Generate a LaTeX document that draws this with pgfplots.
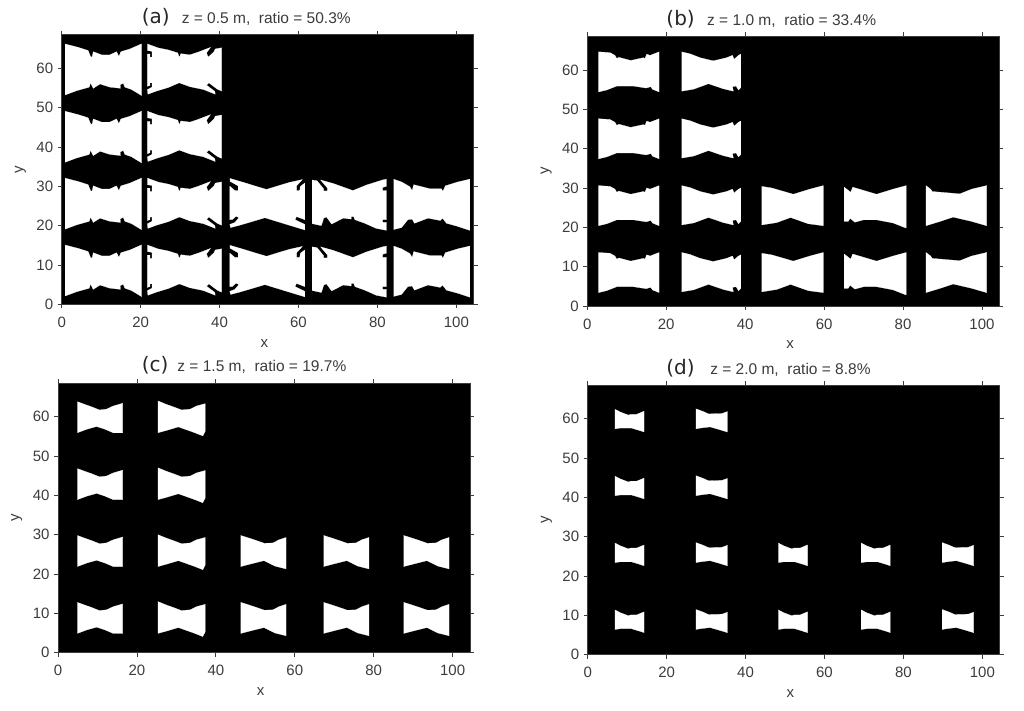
\documentclass[border=0pt]{standalone}
\usepackage{fontspec}
\setmainfont{Liberation Sans}
\newfontfamily\parenfont{DejaVu Sans}
\usepackage{pgfplots}
\usepackage{pgfplotstable}
\pgfplotsset{compat=1.18}
\definecolor{txt}{HTML}{3C3C3C}
% ---- panel (a): one opening per column, lowest row
\pgfplotstableread{
x y
0.84 15.07
4.2 14.2
6.7 13.4
7.3 11.9
7.7 11.7
8.0 13.1
10.1 12.3
12.2 12.3
13.9 13.1
14.5 11.9
15.0 13.1
17.3 13.8
20.25 15.1
20.25 1.95
17.7 3.5
16.0 4.1
15.6 5.1
14.8 4.7
14.9 3.8
12.2 4.1
9.7 4.9
8.0 3.8
7.3 5.2
7.0 4.1
3.8 3.2
0.84 2.1
}\aone
\pgfplotstableread{
x y
21.68 15.08
24.46 14.06
27.0 13.55
29.4 12.8
29.8 11.6
30.2 12.6
32.5 12.3
34.6 13.0
37.7 14.2
36.7 12.8
37.1 11.7
38.6 13.1
38.9 13.8
40.5 14.1
40.5 3.1
39.4 3.6
37.3 5.2
36.7 4.6
38.8 3.0
38.9 2.3
35.9 3.5
32.5 4.2
29.8 5.2
27.0 4.0
24.0 3.1
21.85 2.3
21.7 3.45
22.9 4.1
22.9 5.2
22.35 5.2
22.35 4.5
21.7 4.3
21.7 12.5
22.35 12.5
22.35 11.7
22.9 11.7
22.9 13.2
21.7 13.4
}\atwo
\pgfplotstableread{
x y
42.6 15.0
46.0 14.0
48.9 13.1
51.9 12.2
54.8 13.1
57.8 14.0
61.0 14.7
59.5 13.1
59.5 11.9
60.3 11.9
60.5 13.0
61.6 13.8
61.6 4.5
59.5 5.3
59.1 4.5
61.6 3.3
61.6 1.9
57.0 3.3
54.4 4.1
51.5 5.0
48.5 4.1
45.1 3.1
42.8 2.5
42.6 3.3
43.9 3.8
44.9 5.0
44.2 5.4
43.2 4.5
42.6 4.5
42.6 13.0
43.9 11.9
44.7 11.9
44.7 13.1
42.6 14.3
}\athree
\pgfplotstableread{
x y
63.45 14.6
64.7 14.4
66.4 12.3
66.4 11.8
67.3 11.8
67.3 12.6
65.6 14.6
68.8 13.7
71.3 12.8
73.8 11.9
77.2 13.3
81.3 14.6
82.3 14.8
82.3 13.0
81.3 12.7
81.3 11.9
82.3 11.9
82.3 4.5
81.3 4.5
81.3 3.8
82.3 3.8
82.3 1.8
79.7 2.3
76.8 3.6
74.3 4.5
74.0 5.3
73.4 5.3
73.4 4.65
71.3 4.9
68.4 3.4
67.1 5.2
66.4 4.9
65.8 3.0
63.45 3.5
}\afour
\pgfplotstableread{
x y
84.1 14.8
86.1 14.1
88.2 12.9
88.8 11.9
89.2 13.4
93.2 12.4
96.2 12.4
96.6 11.7
97.2 13.1
100.4 14.1
103.4 14.8
103.4 1.8
100.4 2.8
97.5 3.6
96.5 4.9
95.9 4.3
92.8 4.9
89.4 3.6
88.8 4.65
87.7 4.5
86.1 2.5
84.1 2.0
}\afive
% ---- panel (b)
\pgfplotstableread{
x y
2.8 13.6
5.75 13.4
7.0 12.7
7.45 11.9
8.0 12.2
11.0 11.4
14.2 12.1
14.6 11.9
15.05 13.0
15.9 12.7
18.2 13.6
18.2 3.4
16.5 4.1
16.1 4.75
14.9 4.4
11.7 4.9
7.45 4.9
4.9 3.9
2.8 3.4
}\bone
\pgfplotstableread{
x y
23.9 13.6
26.0 13.1
28.6 12.1
31.9 11.3
35.3 12.1
36.8 12.7
37.2 11.7
38.3 12.7
38.9 13.0
38.9 4.5
38.3 3.9
37.7 4.9
36.8 4.75
37.0 3.6
34.5 4.2
30.7 5.5
26.9 4.1
23.9 3.6
}\btwo
\pgfplotstableread{
x y
44.2 13.4
46.7 13.0
52.2 11.4
56.4 12.7
59.8 13.6
59.8 3.4
56.0 3.9
51.5 5.5
48.0 4.2
44.2 3.6
}\bthree
\pgfplotstableread{
x y
65.1 13.2
66.75 11.9
67.25 13.2
73.3 11.4
77.5 12.7
80.8 13.6
80.8 2.8
77.5 4.1
73.3 4.9
70.0 4.9
67.8 4.3
66.6 5.3
66.1 4.5
65.1 4.5
}\bfour
\pgfplotstableread{
x y
85.8 13.6
87.0 12.7
87.4 12.1
94.4 11.5
97.4 12.7
101.2 13.6
101.2 3.4
97.4 4.5
92.7 5.6
89.4 4.5
85.8 3.4
}\bfive
% ---- panel (c)
\pgfplotstableread{
x y
4.9 12.8
6.8 12.1
8.5 11.5
10.5 10.7
12.3 10.9
14.0 11.7
16.4 12.4
16.4 4.9
14.0 4.9
11.9 5.8
9.8 6.5
7.3 5.8
4.9 4.9
}\cone
\pgfplotstableread{
x y
25.3 13.0
27.5 12.1
29.2 11.5
31.3 10.7
33.5 10.9
35.1 11.7
37.3 12.3
37.3 5.3
36.7 4.1
34.7 4.9
30.5 6.4
27.5 5.5
25.3 4.9
}\ctwo
\pgfplotstableread{
x y
46.3 12.8
48.5 12.1
50.0 11.6
52.3 10.8
54.5 10.9
56.0 11.7
57.8 12.3
57.8 4.3
55.0 5.0
52.2 6.4
49.0 5.6
46.3 4.9
}\cthree
% ---- panel (d)
\pgfplotstableread{
x y
6.9 11.4
8.2 10.7
10.3 9.9
10.9 10.1
12.4 10.1
14.3 10.9
14.3 5.6
13.1 6.0
11.1 6.6
8.2 6.6
6.9 6.4
}\done
\pgfplotstableread{
x y
27.4 11.5
29.3 10.8
30.6 10.2
34.0 10.3
35.4 10.8
35.4 5.6
33.1 6.3
31.0 6.9
28.5 6.6
27.4 6.4
}\dtwo
\newcommand\cell[3]{\addplot[fill=white,draw=white,line width=0.2pt,mark=none] table[x expr=\thisrow{x}+#2,y expr=\thisrow{y}+#3]{#1};}
\pgfplotsset{panel/.style={
  scale only axis,
  anchor=south west,
  width=412pt,
  height=269.5pt,
  xmin=0,xmax=104.4,ymin=0,ymax=68.5,
  xtick={0,20,40,60,80,100},
  ytick={0,10,20,30,40,50,60},
  tick align=outside,
  major tick length=4pt,
  tick style={color=txt,line width=0.8pt},
  axis line style={color=txt,line width=0.6pt},
  axis background/.style={fill=black},
  /pgf/number format/assume math mode=true,
  tick label style={font=\fontsize{15}{15}\selectfont,text=txt},
  xticklabel style={yshift=-5pt},
  yticklabel style={xshift=-1pt},
  every axis x label/.style={at={(axis description cs:0.492,-0.144)},anchor=center,font=\fontsize{15}{15}\selectfont,text=txt},
  every axis y label/.style={at={(axis description cs:-0.1,0.5)},rotate=90,anchor=center,font=\fontsize{15}{15}\selectfont,text=txt},
  xlabel={x},ylabel={y},
  every axis title shift=0pt,
  title style={anchor=base west,inner sep=0pt,font=\fontsize{15.5}{15.5}\selectfont,text=txt},
}}
\newcommand\ttl[3]{\makebox[#1pt][l]{\parenfont\fontsize{20}{20}\selectfont\color{black!85}(#2)}#3}
\begin{document}
\begin{tikzpicture}[x=1pt,y=1pt]
\path[use as bounding box] (0,0) rectangle (1024,710);
% (a)
\begin{axis}[panel,at={(61.7pt,405.7pt)},
  title style={at={(axis description cs:0.194,1.041)}},
  title={\ttl{40}{a}{z = 0.5 m,\ \ ratio = 50.3\%}}]
\cell{\aone}{0}{0}\cell{\aone}{0}{17}\cell{\aone}{0}{34}\cell{\aone}{0}{51.1}
\cell{\atwo}{0}{0}\cell{\atwo}{0}{17}\cell{\atwo}{0}{34}\cell{\atwo}{0}{51.1}
\cell{\athree}{0}{0}\cell{\athree}{0}{17}
\cell{\afour}{0}{0}\cell{\afour}{0}{17}
\cell{\afive}{0}{0}\cell{\afive}{0}{17}
\end{axis}
% (b)
\begin{axis}[panel,at={(587.3pt,404pt)},
  title style={at={(axis description cs:0.1917,1.041)}},
  title={\ttl{40.7}{b}{z = 1.0 m,\ \ ratio = 33.4\%}}]
\cell{\bone}{0}{0}\cell{\bone}{0}{17}\cell{\bone}{0}{34}\cell{\bone}{0}{51}
\cell{\btwo}{0}{0}\cell{\btwo}{0}{17}\cell{\btwo}{0}{34}\cell{\btwo}{0}{51}
\cell{\bthree}{0}{0}\cell{\bthree}{0}{17}
\cell{\bfour}{0}{0}\cell{\bfour}{0}{17}
\cell{\bfive}{0}{0}\cell{\bfive}{0}{17}
\end{axis}
% (c)
\begin{axis}[panel,at={(58pt,57.3pt)},
  title style={at={(axis description cs:0.203,1.042)}},
  title={\ttl{35.6}{c}{z = 1.5 m,\ \ ratio = 19.7\%}}]
\cell{\cone}{0}{0}\cell{\cone}{0}{17}\cell{\cone}{0}{34}\cell{\cone}{0}{51}
\cell{\ctwo}{0}{0}\cell{\ctwo}{0}{17}\cell{\ctwo}{0}{34}\cell{\ctwo}{0}{51}
\cell{\cthree}{0}{0}\cell{\cthree}{0}{17}
\cell{\cthree}{21}{0}\cell{\cthree}{21}{17}
\cell{\cthree}{41.3}{0}\cell{\cthree}{41.3}{17}
\end{axis}
% (d)
\begin{axis}[panel,at={(587.7pt,55.3pt)},
  title style={at={(axis description cs:0.1903,1.041)}},
  title={\ttl{44}{d}{z = 2.0 m,\ \ ratio = 8.8\%}}]
\cell{\done}{0}{0}\cell{\done}{0}{17}\cell{\done}{0}{34}\cell{\done}{0}{51}
\cell{\dtwo}{0}{0}\cell{\dtwo}{0}{17}\cell{\dtwo}{0}{34}\cell{\dtwo}{0}{51}
\cell{\done}{41.4}{0}\cell{\done}{41.4}{17}
\cell{\done}{62.4}{0}\cell{\done}{62.4}{17}
\cell{\dtwo}{62.4}{0}\cell{\dtwo}{62.4}{17}
\end{axis}
\end{tikzpicture}
\end{document}
